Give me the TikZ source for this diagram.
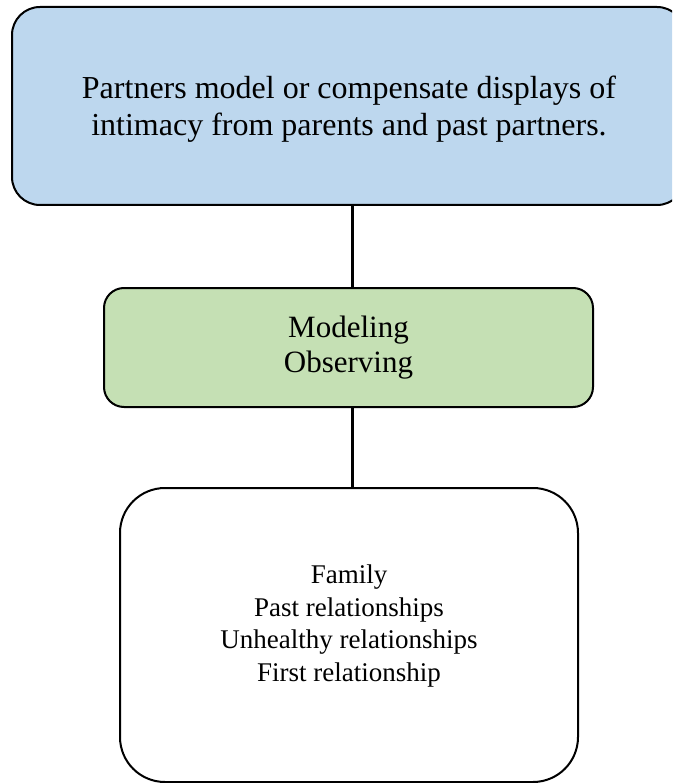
\documentclass[tikz,border=0pt]{standalone}
\usepackage{fontspec}
\setmainfont{Liberation Serif}
\begin{document}
\begin{tikzpicture}[x=1pt,y=-1pt,
  box/.style={draw=black,line width=2pt,rectangle,align=center,inner sep=0pt},
  link/.style={draw=black,line width=3pt}]
\definecolor{bluefill}{HTML}{BDD7EE}
\definecolor{greenfill}{HTML}{C5E0B4}
\useasboundingbox (0,0) rectangle (672,783);
\clip (0,0) rectangle (672,783);

% top statement
\node[box,fill=bluefill,rounded corners=28pt,minimum width=673pt,minimum height=198pt] (top) at (348.5,106) {};
\node[align=center,inner sep=0pt,font=\fontsize{32pt}{37pt}\selectfont] (toptext) at (349,109)
  {Partners model or compensate displays of\\intimacy from parents and past partners.};

% mechanisms
\node[box,fill=greenfill,rounded corners=20pt,minimum width=489pt,minimum height=119pt,
      font=\fontsize{31pt}{35pt}\selectfont] (mid) at (348.5,347.5)
  {Modeling\\Observing};

% sources
\node[box,fill=white,rounded corners=45pt,minimum width=458pt,minimum height=294pt] (bot) at (349,635) {};
\node[align=center,inner sep=0pt,font=\fontsize{27pt}{32.5pt}\selectfont] (bottext) at (349,626)
  {Family\\Past relationships\\Unhealthy relationships\\First relationship};

% connectors
\draw[link] ([xshift=3.5pt]top.south) -- ([xshift=3.5pt]mid.north);
\draw[link] ([xshift=3.5pt]mid.south) -- ([xshift=3pt]bot.north);
\end{tikzpicture}
\end{document}
